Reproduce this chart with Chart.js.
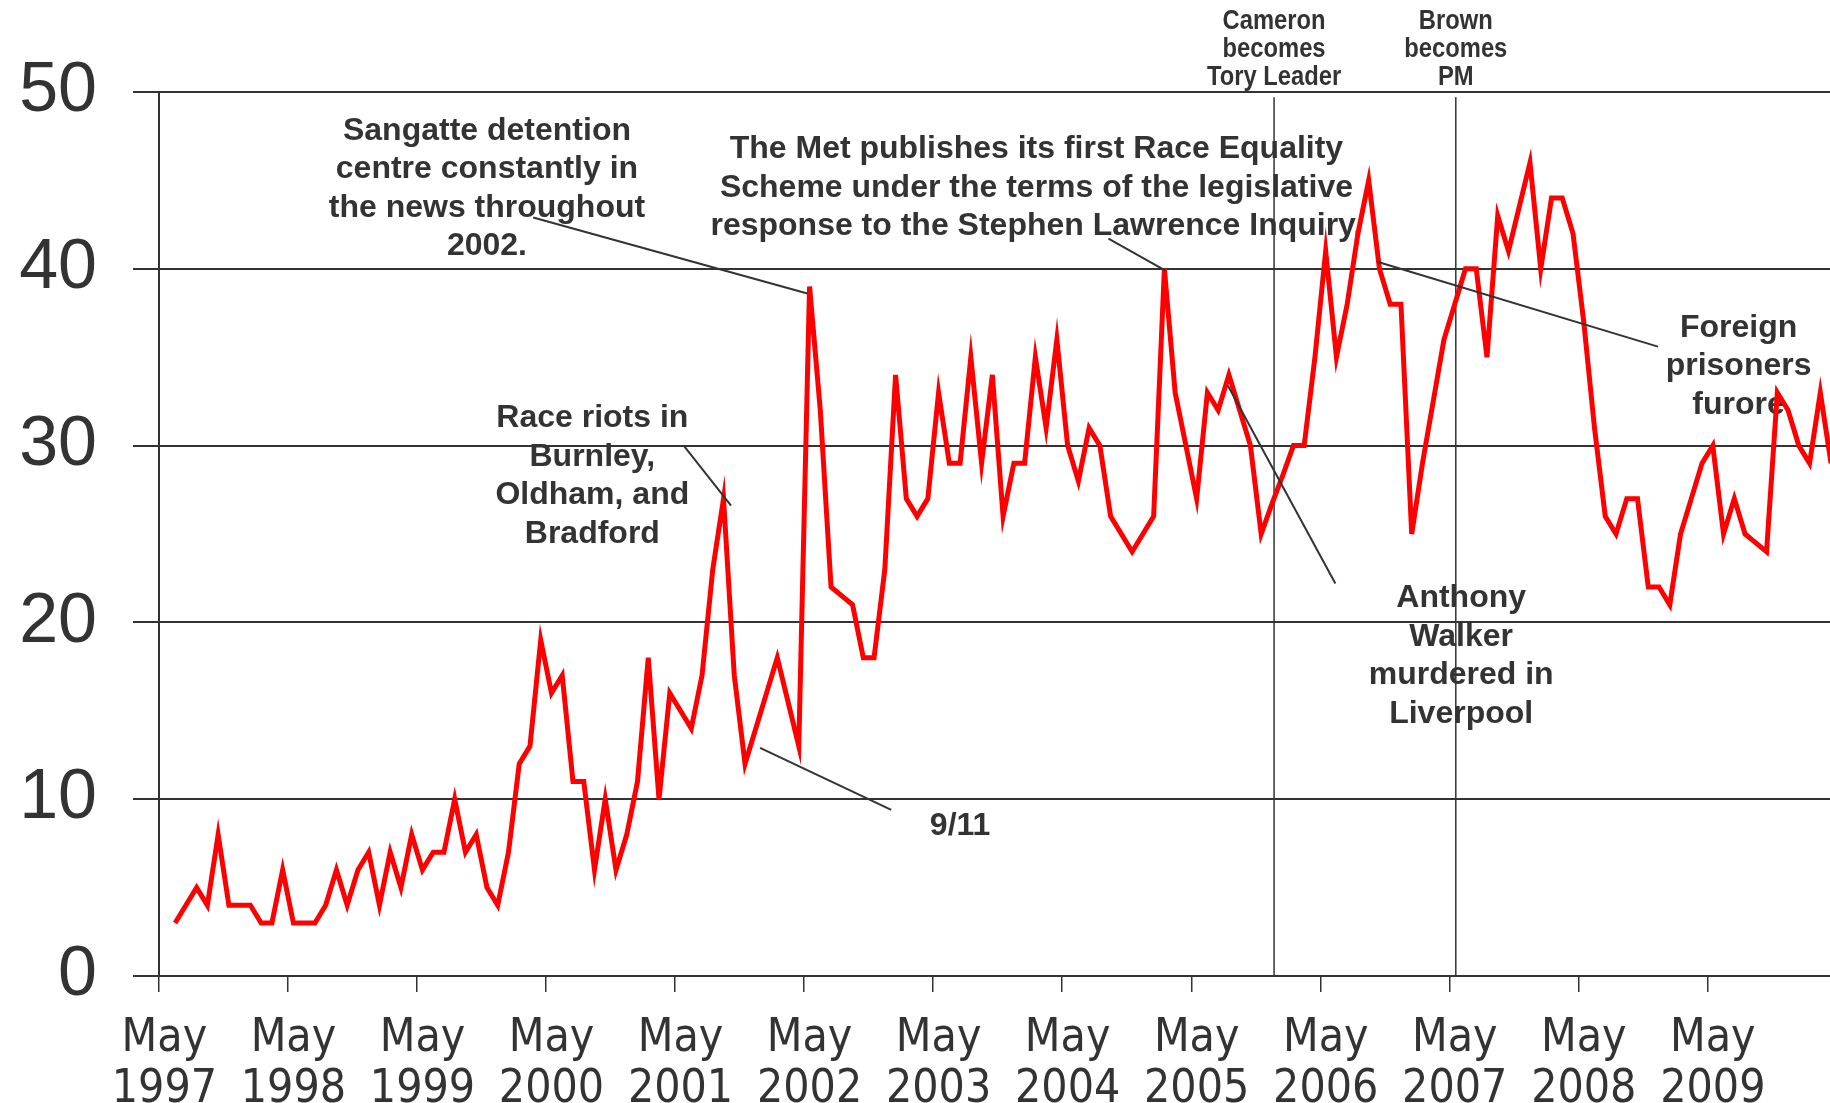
<!DOCTYPE html>
<html>
<head>
<meta charset="utf-8">
<title>Monthly count, May 1997 onwards</title>
<script src="https://cdn.jsdelivr.net/npm/chart.js@4.4.1/dist/chart.umd.min.js"></script>
<style>
  html, body { margin: 0; padding: 0; background: #fff; }
  #chart { display: block; }
</style>
</head>
<body>
<canvas id="chart" width="1830" height="1103"></canvas>
<script>
/* ── Data ───────────────────────────────────────────────── */

var startYear = 1997;
var startMonth = 'May';

/* one value per month, first category is May 1997 (no value) */
var counts = [
  null, 3, 4, 5, 4, 8, 4, 4, 4, 3, 3, 6,             // 1997-98
  3, 3, 3, 4, 6, 4, 6, 7, 4, 7, 5, 8,                // 1998-99
  6, 7, 7, 10, 7, 8, 5, 4, 7, 12, 13, 19,            // 1999-00
  16, 17, 11, 11, 6, 10, 6, 8, 11, 18, 10, 16,       // 2000-01
  15, 14, 17, 23, 27, 17, 12, 14, 16, 18, 15.5, 13,  // 2001-02
  39, 32, 22, 21.5, 21, 18, 18, 23, 34, 27, 26, 27,  // 2002-03
  33, 29, 29, 35, 29, 34, 26, 29, 29, 35, 31, 36,    // 2003-04
  30, 28, 31, 30, 26, 25, 24, 25, 26, 40, 33, 30,    // 2004-05
  27, 33, 32, 34, 32, 30, 25, 26.7, 28.3, 30, 30, 35,// 2005-06
  41, 35, 38, 42, 45, 40, 38, 38, 25, 29, 32.5, 36,  // 2006-07
  38, 40, 40, 35, 43, 41, 43.5, 46, 40, 44, 44, 42,  // 2007-08
  37, 31, 26, 25, 27, 27, 22, 22, 21, 25, 27, 29,    // 2008-09
  30, 25, 27, 25, 24.5, 24, 33, 32, 30, 29, 33, 29   // 2009-10
];

var yTicks = [0, 10, 20, 30, 40, 50];
var visibleMonths = 155.4;   // the picture is cut off on the right

/* annotations: text lines, anchor (month, value) of first line, leader line */
var notes = [
  { lines: ['Sangatte detention', 'centre constantly in', 'the news throughout', '2002.'],
    at: [30.5, 47.8], lead: [[34.8, 42.9], [60.3, 38.6]] },
  { lines: ['The Met publishes its first Race Equality', 'Scheme under the terms of the legislative', 'response to the Stephen Lawrence Inquiry.'],
    at: [81.6, 46.75], lead: [[88.3, 41.7], [93.6, 39.9]] },
  { lines: ['Race riots in', 'Burnley,', 'Oldham, and', 'Bradford'],
    at: [40.3, 31.55], lead: [[48.8, 30.0], [53.2, 26.6]] },
  { lines: ['9/11'],
    at: [74.5, 8.5], lead: [[55.9, 12.9], [68.1, 9.4]] },
  { lines: ['Anthony', 'Walker', 'murdered in', 'Liverpool'],
    at: [121.1, 21.35], lead: [[99.4, 33.4], [109.4, 22.2]] },
  { lines: ['Foreign', 'prisoners', 'furore'],
    at: [146.9, 36.65], lead: [[113.3, 40.4], [139.4, 35.6]] }
];

/* vertical event markers with their captions above the plot */
var events = [
  { lines: ['Cameron', 'becomes', 'Tory Leader'], month: 103.7 },
  { lines: ['Brown', 'becomes', 'PM'], month: 120.6 }
];

var points = counts.map(function (v, i) {
  return { x: i + 0.5, y: v };
});

/* ── Styles ─────────────────────────────────────────────── */

var ink = '#333333';
var sansFamily = "'Liberation Sans', Arial, sans-serif";
var narrowFamily = "'Liberation Sans Narrow', 'Arial Narrow', 'DejaVu Sans Condensed', sans-serif";

/* ── Annotation plugin ──────────────────────────────────── */

var notesPlugin = {
  id: 'notes',
  beforeDatasetsDraw: function (chart) {
    var c = chart.ctx, xs = chart.scales.x, ys = chart.scales.y;
    c.save();
    c.fillStyle = ink;
    c.textAlign = 'center';
    c.textBaseline = 'middle';

    c.font = 'bold 32px ' + sansFamily;
    notes.forEach(function (n) {
      var x = xs.getPixelForValue(n.at[0]);
      var y = ys.getPixelForValue(n.at[1]);
      n.lines.forEach(function (t, k) { c.fillText(t, x, y + k * 38.5); });
    });

    /* captions above the plot use a condensed look */
    c.font = 'bold 27px ' + sansFamily;
    c.strokeStyle = ink;
    c.lineWidth = 1.5;
    events.forEach(function (e) {
      var x = xs.getPixelForValue(e.month);
      e.lines.forEach(function (t, k) {
        c.save();
        c.translate(x, 21.5 + k * 28);
        c.scale(0.88, 1);
        c.fillText(t, 0, 0);
        c.restore();
      });
      c.beginPath();
      c.moveTo(x, ys.getPixelForValue(49.7));
      c.lineTo(x, ys.getPixelForValue(0));
      c.stroke();
    });
    c.restore();
  },
  afterDatasetsDraw: function (chart) {
    var c = chart.ctx, xs = chart.scales.x, ys = chart.scales.y;
    c.save();
    c.strokeStyle = ink;
    c.lineWidth = 2;
    notes.forEach(function (n) {
      c.beginPath();
      c.moveTo(xs.getPixelForValue(n.lead[0][0]), ys.getPixelForValue(n.lead[0][1]));
      c.lineTo(xs.getPixelForValue(n.lead[1][0]), ys.getPixelForValue(n.lead[1][1]));
      c.stroke();
    });
    c.restore();
  }
};

/* ── Chart ──────────────────────────────────────────────── */

new Chart(document.getElementById('chart'), {
  type: 'line',
  data: {
    datasets: [{
      data: points,
      borderColor: '#ff0000',
      borderWidth: 5,
      borderJoinStyle: 'miter',
      pointRadius: 0,
      tension: 0,
      fill: false
    }]
  },
  options: {
    responsive: false,
    animation: false,
    layout: { padding: { top: 92, right: 0, bottom: 0, left: 0 } },
    plugins: {
      legend: { display: false },
      tooltip: { enabled: false }
    },
    scales: {
      x: {
        type: 'linear',
        min: 0,
        max: visibleMonths,
        afterFit: function (s) { s.height = 127; },
        afterBuildTicks: function (s) {
          var t = [];
          for (var v = 0; v <= visibleMonths; v += 12) t.push({ value: v });
          s.ticks = t;
        },
        grid: { drawOnChartArea: false, drawTicks: true, tickLength: 16, color: ink, lineWidth: 1.5 },
        border: { display: true, color: ink, width: 2 },
        ticks: {
          autoSkip: false,
          maxRotation: 0,
          padding: 22,
          labelOffset: 5.4,
          color: ink,
          font: { family: narrowFamily, size: 46, lineHeight: 1.1 },
          callback: function (v) { return [startMonth, String(startYear + v / 12)]; }
        }
      },
      y: {
        min: yTicks[0],
        max: yTicks[yTicks.length - 1],
        afterFit: function (s) { s.width = 159; },
        afterBuildTicks: function (s) {
          s.ticks = yTicks.map(function (v) { return { value: v }; });
        },
        grid: { color: ink, lineWidth: 2, drawTicks: true, tickLength: 26 },
        border: { display: true, color: ink, width: 2 },
        ticks: {
          padding: 36,
          color: ink,
          font: { family: sansFamily, size: 70 }
        }
      }
    }
  },
  plugins: [notesPlugin]
});
</script>
</body>
</html>
